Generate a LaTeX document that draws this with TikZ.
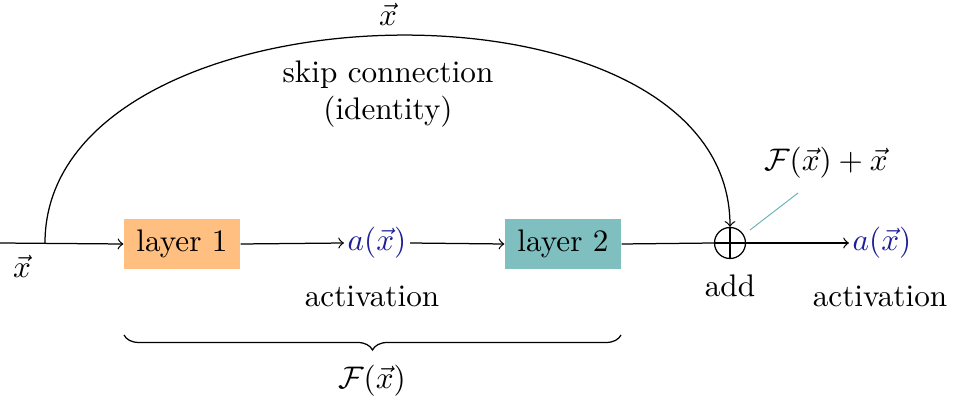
\documentclass[tikz,border=0pt]{standalone}
\usetikzlibrary{decorations.pathreplacing}
\definecolor{actblue}{RGB}{30,30,150}
\begin{document}
\begin{tikzpicture}[x=0.3205pt,y=-0.3205pt,
  layerbox/.style={minimum width=116*0.3205pt, minimum height=50*0.3205pt, inner sep=0pt},
  act/.style={text=actblue, inner sep=1pt},
  lbl/.style={inner sep=0pt},
  conn/.style={->}]
\useasboundingbox (0,0) rectangle (971,412);
\coordinate (start) at (0,243);
\coordinate (split) at (45,243);
\node[lbl] (xin) at (22,266) {$\vec{x}$};
\node[layerbox, fill=orange!50] (l1) at (182,244) {layer 1};
\node[act] (a1) at (377,243) {$a(\vec{x})$};
\node[lbl] (act1) at (372,296) {activation};
\node[layerbox, fill=teal!50] (l2) at (563,244) {layer 2};
\node[draw, circle, minimum size=31*0.3205pt, inner sep=0pt] (add) at (730,243) {};
\draw (add.north) -- (add.south) (add.west) -- (add.east);
\node[lbl] (addl) at (730,286) {add};
\node[act] (a2) at (882,243) {$a(\vec{x})$};
\node[lbl] (act2) at (880,296) {activation};
\node[lbl] (sum) at (826,163) {$\mathcal{F}(\vec{x})+\vec{x}$};
\coordinate (pinA) at (750,230);
\coordinate (pinB) at (798,193);
\draw[teal!60, line width=0.3pt] (pinA) -- (pinB);
\draw[conn] (start) -- (l1.west);
\draw[conn] (l1.east) -- (a1.west);
\draw[conn] (a1.east) -- (l2.west);
\draw (l2.east) -- (add.west);
\draw[conn] (add.east) -- (a2.west);
\draw[conn] (split) .. controls (45,-22) and (730,-40) .. (add.north);
\node[lbl] (xtop) at (388,14) {$\vec{x}$};
\node[lbl, align=center] (skip) at (388,94) {skip connection\\(identity)};
\coordinate (bL) at (124,335);
\coordinate (bR) at (621,335);
\draw[decorate, decoration={brace, mirror, amplitude=4.8pt}] (bL) -- (bR);
\node[lbl] (fx) at (372,381) {$\mathcal{F}(\vec{x})$};
\end{tikzpicture}
\end{document}
